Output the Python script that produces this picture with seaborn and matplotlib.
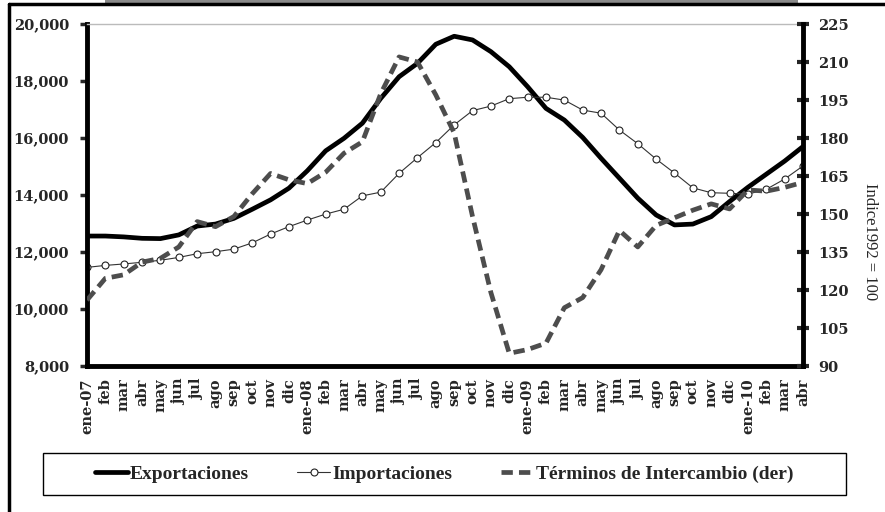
import pandas as pd
import matplotlib.pyplot as plt
import seaborn as sns
from matplotlib.lines import Line2D
from matplotlib.patches import Rectangle

meses = ["ene-07", "feb", "mar", "abr", "may", "jun", "jul", "ago", "sep", "oct", "nov", "dic",
         "ene-08", "feb", "mar", "abr", "may", "jun", "jul", "ago", "sep", "oct", "nov", "dic",
         "ene-09", "feb", "mar", "abr", "may", "jun", "jul", "ago", "sep", "oct", "nov", "dic",
         "ene-10", "feb", "mar", "abr"]

exportaciones = [12560, 12560, 12530, 12480, 12470, 12600, 12910, 12980, 13180, 13500,
                 13830, 14240, 14850, 15550, 15990, 16520, 17390, 18150, 18620, 19290,
                 19570, 19440, 19030, 18500, 17800, 17040, 16630, 16020, 15290, 14590,
                 13890, 13300, 12950, 12980, 13240, 13770, 14270, 14730, 15190, 15700]

importaciones = [11460, 11530, 11580, 11640, 11710, 11810, 11940, 12010, 12100, 12320,
                 12630, 12890, 13120, 13330, 13500, 13970, 14100, 14760, 15310, 15840,
                 16460, 16960, 17120, 17380, 17430, 17430, 17330, 16980, 16870, 16280,
                 15800, 15260, 14770, 14250, 14080, 14060, 14030, 14200, 14560, 15020]

terminos = [116, 124.6, 126, 131, 132.5, 137, 147, 145, 149, 158,
            166, 163.5, 162, 166.5, 174, 178.5, 197.5, 212, 210, 197,
            182, 149, 119, 95, 96.5, 99, 113, 117, 128, 143.5,
            137, 145.5, 148.5, 151.5, 154, 152, 159.5, 159, 160.5, 162.5]

sns.set_style("white")
plt.rcParams['font.family'] = ['Liberation Serif', 'DejaVu Serif']

df = pd.DataFrame({"mes": range(len(meses)), "exp": exportaciones,
                   "imp": importaciones, "ti": terminos})

fig = plt.figure(figsize=(8.85, 5.12), dpi=100)
ax = fig.add_axes([87/885, 1-366/512, 716/885, 342/512])
ax2 = ax.twinx()

sns.lineplot(data=df, x="mes", y="exp", ax=ax, color="black", linewidth=3.4,
             label="Exportaciones", legend=False)
sns.lineplot(data=df, x="mes", y="imp", ax=ax, color="#333333", linewidth=0.8,
             marker="o", markersize=5, markerfacecolor="white", markeredgecolor="#222222",
             markeredgewidth=0.8, label="Importaciones", legend=False)
sns.lineplot(data=df, x="mes", y="ti", ax=ax2, color="#4d4d4d", linewidth=3.4,
             linestyle=(0, (2.4, 1.3)), label="Términos de Intercambio (der)", legend=False)

ax.set_xlim(0, 39)
ax.set_ylim(8000, 20000)
ax2.set_ylim(90, 225)
ax.set_xlabel("")
ax.set_ylabel("")
ax2.set_ylabel("")

tick_font = {"family": "DejaVu Serif", "weight": "bold", "size": 10.5}
ax.set_yticks(range(8000, 20001, 2000))
ax.set_yticklabels([f"{v:,}" for v in range(8000, 20001, 2000)], fontdict=tick_font)
ax2.set_yticks(range(90, 226, 15))
ax2.set_yticklabels([str(v) for v in range(90, 226, 15)], fontdict=tick_font)
ax.set_xticks(range(len(meses)))
ax.set_xticklabels(meses, rotation=90, fontdict=tick_font)
ax.set_xticks(range(0, 40, 6), minor=True)

ax.tick_params(axis="y", left=True, direction="out", length=5, width=2.5, pad=8)
ax.tick_params(axis="x", which="major", bottom=True, length=0, pad=9)
ax.tick_params(axis="x", which="minor", bottom=True, direction="inout", length=8, width=3)
ax2.tick_params(axis="y", right=True, direction="inout", length=8, width=3, pad=7)

for s in ["left", "bottom"]:
    ax.spines[s].set_linewidth(3.5)
    ax.spines[s].set_color("black")
ax.spines["top"].set_color("#bbbbbb")
ax.spines["top"].set_linewidth(1)
ax.spines["right"].set_visible(False)
for s in ["left", "bottom", "top"]:
    ax2.spines[s].set_visible(False)
ax2.spines["right"].set_linewidth(3.5)
ax2.spines["right"].set_color("black")

ax2.text(1.094, 0.363, "Indice1992 = 100", transform=ax2.transAxes, rotation=270,
         ha="center", va="center", fontsize=12)

# marco exterior
fig.add_artist(Line2D([9/885, 9/885], [0, 1-4/512], color="black", lw=2.5))
fig.add_artist(Line2D([9/885, 1], [1-4/512, 1-4/512], color="black", lw=2.5))
fig.add_artist(Rectangle((105/885, 1-3/512), 693/885, 3/512, color="#8a8a8a", lw=0))

# leyenda
fig.add_artist(Rectangle((43/885, 1-495/512), 803/885, 42/512, fill=False,
                         edgecolor="black", lw=1))
h1, l1 = ax.get_legend_handles_labels()
h2, l2 = ax2.get_legend_handles_labels()
fig.legend(h1 + h2, l1 + l2, loc="center", bbox_to_anchor=(444/885, 1-474/512), ncol=3,
           frameon=False, handlelength=1.7, handletextpad=0.1, columnspacing=2.5,
           prop={"weight": "bold", "size": 14})

fig.savefig("out.png", dpi=100)
